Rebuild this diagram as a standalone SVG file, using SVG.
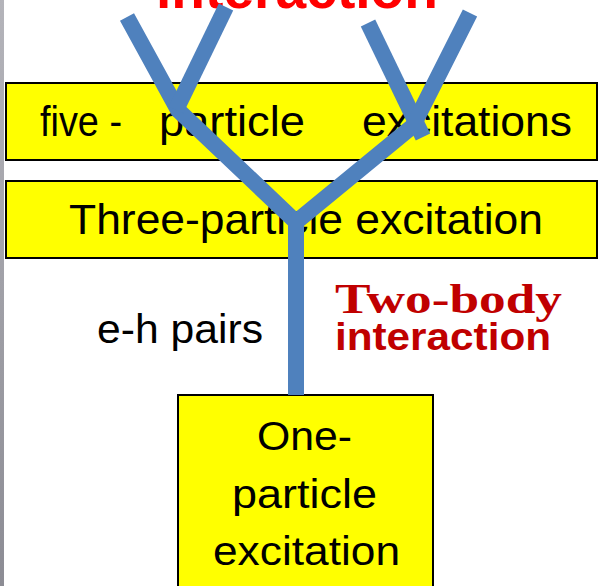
<svg xmlns="http://www.w3.org/2000/svg" width="600" height="586" viewBox="0 0 600 586">
<defs>
<linearGradient id="edge" x1="0" y1="0" x2="0" y2="1">
<stop offset="0" stop-color="#b4b4ba"/>
<stop offset="1" stop-color="#8c8c94"/>
</linearGradient>
</defs>
<style>
.box{fill:#ffff00;stroke:#000;stroke-width:2}
.t{font-family:"Liberation Sans",Arial,sans-serif;fill:#000}
.red{font-family:"Liberation Sans",Arial,sans-serif;font-weight:bold}
.serif{font-family:"Liberation Serif","Times New Roman",serif;font-weight:bold}
.br{fill:none;stroke:#4f81bd;stroke-width:16;stroke-linecap:butt;stroke-linejoin:miter}
</style>
<rect x="0" y="0" width="600" height="586" fill="#ffffff"/>
<rect x="0" y="0" width="4" height="586" fill="url(#edge)"/>
<text class="red" x="297" y="8" text-anchor="middle" font-size="56" fill="#ff0000" textLength="282" lengthAdjust="spacingAndGlyphs">interaction</text>
<g id="five">
<rect class="box" x="6" y="83" width="591" height="77"/>
<text class="t" y="136" font-size="42"><tspan x="40" textLength="82" lengthAdjust="spacingAndGlyphs">five -</tspan><tspan x="159" textLength="146" lengthAdjust="spacingAndGlyphs">particle</tspan><tspan x="362" textLength="210" lengthAdjust="spacingAndGlyphs">excitations</tspan></text>
</g>
<g id="three">
<rect class="box" x="6" y="181" width="591" height="77"/>
<text class="t" x="69" y="234" font-size="42" textLength="474" lengthAdjust="spacingAndGlyphs">Three-particle excitation</text>
</g>
<g id="eh">
<text class="t" x="97" y="343" font-size="40" textLength="166" lengthAdjust="spacingAndGlyphs">e-h pairs</text>
</g>
<g id="twobody">
<text class="serif" x="335" y="313" font-size="42" fill="#c00000" textLength="227" lengthAdjust="spacingAndGlyphs">Two-body</text>
<text class="red" x="335" y="350" font-size="38" fill="#c00000" textLength="216" lengthAdjust="spacingAndGlyphs">interaction</text>
</g>
<g id="one">
<rect class="box" x="178" y="395" width="255" height="200"/>
<text class="t" x="257" y="450" font-size="40" textLength="95" lengthAdjust="spacingAndGlyphs">One-</text>
<text class="t" x="232" y="508" font-size="40" textLength="145" lengthAdjust="spacingAndGlyphs">particle</text>
<text class="t" x="213" y="565" font-size="40" textLength="187" lengthAdjust="spacingAndGlyphs">excitation</text>
</g>
<g id="connectors">
<path class="br" d="M127,17 L178,110 L296,222"/>
<path class="br" d="M226,7 L176,110"/>
<path class="br" d="M368,23 L423,137"/>
<path class="br" d="M470,13 L413,126 L296,222"/>
<path class="br" d="M296,218 L296,395"/>
</g>
</svg>
